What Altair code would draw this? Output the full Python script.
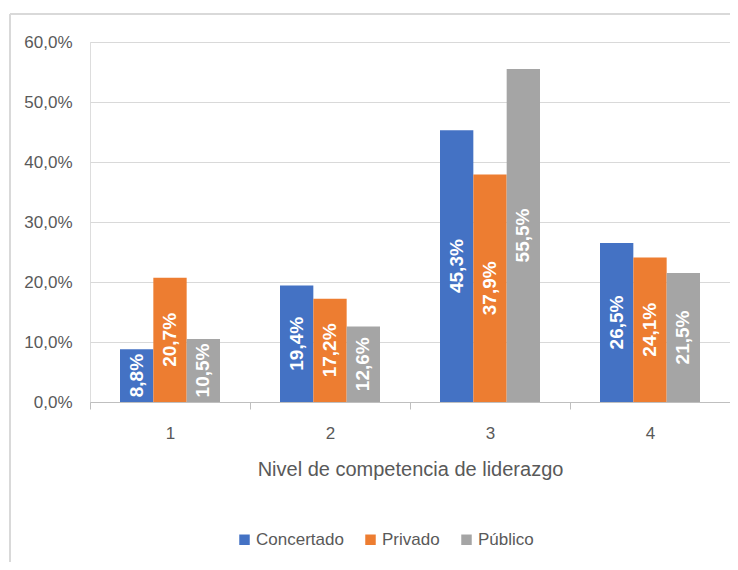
import altair as alt
import pandas as pd

categories = ["1", "2", "3", "4"]
series = ["Concertado", "Privado", "Público"]
concertado = [0.088, 0.194, 0.453, 0.265]
privado = [0.207, 0.172, 0.379, 0.241]
publico = [0.105, 0.126, 0.555, 0.215]
colors = ["#4472C4", "#ED7D31", "#A5A5A5"]

rows = []
for i, c in enumerate(categories):
    for s, vals in zip(series, [concertado, privado, publico]):
        rows.append({"nivel": c, "serie": s, "valor": vals[i]})
df = pd.DataFrame(rows)

FONT = "Liberation Sans"
GRAY = "#595959"

x_enc = alt.X("nivel:N", sort=categories,
              scale=alt.Scale(paddingInner=0, paddingOuter=0),
              axis=alt.Axis(title="Nivel de competencia de liderazgo", labelAngle=0,
                            tickBand="extent", tickSize=7, tickColor="#bfbfbf",
                            domainColor="#bfbfbf", labelPadding=16, labelFontSize=17,
                            labelColor=GRAY, titleFontSize=20, titleColor=GRAY,
                            titleFontWeight="normal", titlePadding=18,
                            labelFont=FONT, titleFont=FONT))
xoff = alt.XOffset("serie:N", sort=series,
                   scale=alt.Scale(paddingInner=0, paddingOuter=0.9))

bars = alt.Chart(df).mark_bar().encode(
    x=x_enc,
    xOffset=xoff,
    y=alt.Y("valor:Q", scale=alt.Scale(domain=[0, 0.6]),
            axis=alt.Axis(title=None, values=[0, 0.1, 0.2, 0.3, 0.4, 0.5, 0.6],
                          labelExpr="replace(format(datum.value, '.1%'), '.', ',')",
                          domain=False, ticks=False, labelPadding=18,
                          gridColor="#d9d9d9", labelFontSize=17, labelColor=GRAY,
                          labelFont=FONT)),
    color=alt.Color("serie:N", sort=series,
                    scale=alt.Scale(domain=series, range=colors),
                    legend=alt.Legend(title=None, orient="none", legendX=146, legendY=489,
                                      direction="horizontal", symbolType="square",
                                      symbolSize=110, labelFontSize=17, labelColor=GRAY,
                                      labelFont=FONT, columnPadding=18, symbolOffset=0,
                                      labelOffset=3)),
)

labels = alt.Chart(df).transform_calculate(
    mid="datum.valor / 2",
    txt="replace(format(datum.valor, '.1%'), '.', ',')",
).mark_text(angle=270, align="center", baseline="middle", color="white",
            fontWeight="bold", fontSize=19, font=FONT).encode(
    x=alt.X("nivel:N", sort=categories),
    xOffset=alt.XOffset("serie:N", sort=series),
    y=alt.Y("mid:Q"),
    text="txt:N",
)

border_top = alt.Chart(df).mark_rule(color="#d9d9d9", strokeWidth=1.5).encode(
    x=alt.value(-80), x2=alt.value(660), y=alt.value(-28))
border_left = alt.Chart(df).mark_rule(color="#d9d9d9", strokeWidth=1.5).encode(
    x=alt.value(-80), y=alt.value(-28), y2=alt.value(540))

chart = alt.layer(bars, labels, border_top, border_left).properties(
    width=640, height=360,
    autosize=alt.AutoSizeParams(type="none"),
    padding={"left": 82, "top": 34, "right": 0, "bottom": 160},
).configure_view(stroke=None).configure(font=FONT)

chart.save("out.html", embed_options={"renderer": "svg", "actions": False})
